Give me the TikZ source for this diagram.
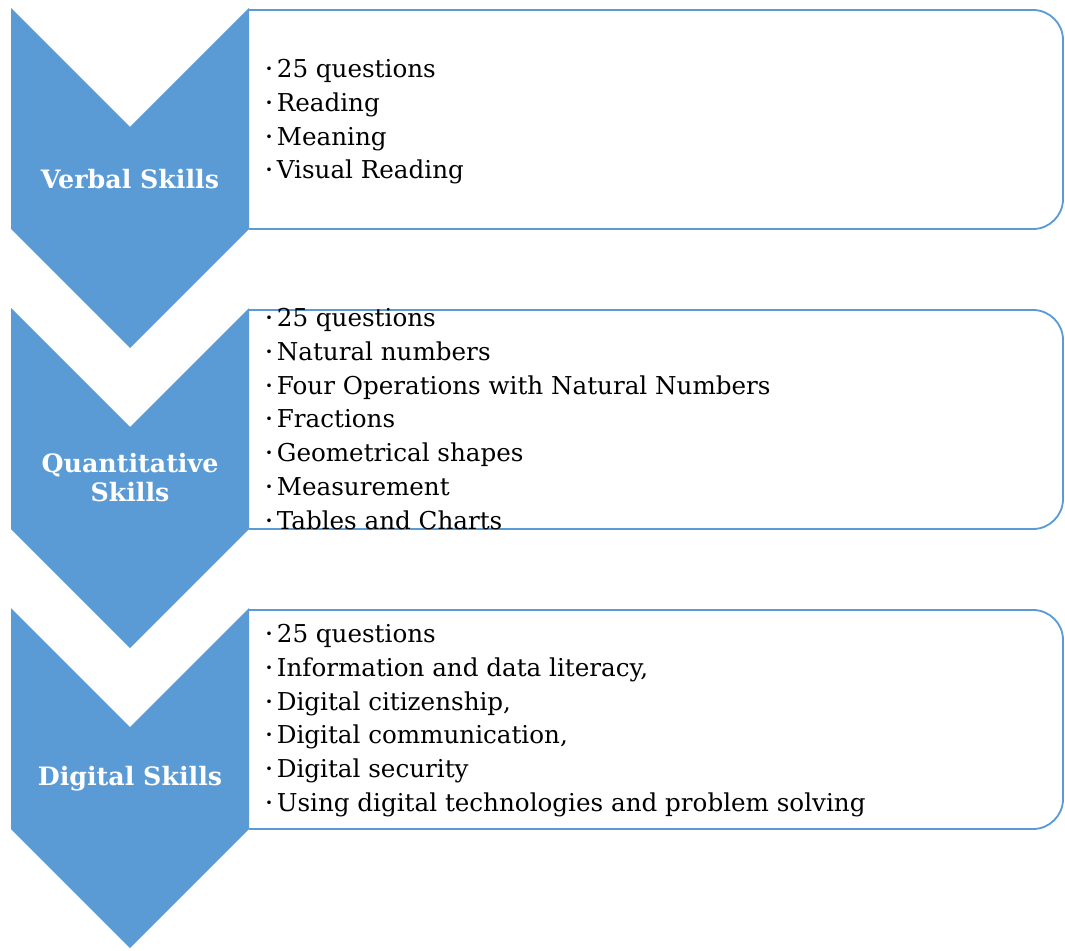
\documentclass[tikz,border=0pt]{standalone}
\usepackage{fontspec}
\setmainfont{DejaVu Serif}
\usetikzlibrary{positioning}
\definecolor{skillblue}{HTML}{5B9BD5}
\newcommand{\itm}{\raisebox{0.3ex}{\fontsize{9}{9}\selectfont\textbullet}\,}
\tikzset{
  chevron/.style={fill=skillblue},
  topicbox/.style={draw=skillblue, fill=white, line width=1.3pt, rounded corners=0.75cm},
  skill/.style={text=white, font=\fontsize{18}{20.6}\selectfont\bfseries, align=center},
  topics/.style={anchor=north west, inner sep=0pt, align=left, font=\fontsize{17.5}{24}\selectfont}
}

\begin{document}
\begin{tikzpicture}[x=0.025cm, y=0.025cm]
    \useasboundingbox (0,0) rectangle (1065,950);
    % Topic boxes, rounded on the right only
    \draw[topicbox] (249,940) -- (1063,940) -- (1063,721) -- (249,721);
    \draw[topicbox] (249,640) -- (1063,640) -- (1063,421) -- (249,421);
    \draw[topicbox] (249,340) -- (1063,340) -- (1063,121) -- (249,121);
    % Chevrons
    \fill[chevron] (11,942) -- (130,823) -- (249,942) -- (249,721) -- (130,602) -- (11,721) -- cycle;
    \fill[chevron] (11,642) -- (130,523) -- (249,642) -- (249,421) -- (130,302) -- (11,421) -- cycle;
    \fill[chevron] (11,342) -- (130,223) -- (249,342) -- (249,121) -- (130,2) -- (11,121) -- cycle;
    % Skill names
    \node[skill] (verbal) at (130,771) {Verbal Skills};
    \node[skill] (quant) at (130,472) {Quantitative\\Skills};
    \node[skill] (digital) at (130,171) {Digital Skills};
    % Topics of each part
    \node[topics] (verbaltopics) at (265,891) {\itm 25 questions\\
        \itm Reading\\
        \itm Meaning\\
        \itm Visual Reading};
    \node[topics] (quanttopics) at (265,642) {\itm 25 questions\\
        \itm Natural numbers\\
        \itm Four Operations with Natural Numbers\\
        \itm Fractions\\
        \itm Geometrical shapes\\
        \itm Measurement\\
        \itm Tables and Charts};
    \node[topics] (digitaltopics) at (265,326) {\itm 25 questions\\
        \itm Information and data literacy,\\
        \itm Digital citizenship,\\
        \itm Digital communication,\\
        \itm Digital security\\
        \itm Using digital technologies and problem solving};
\end{tikzpicture}
\end{document}
